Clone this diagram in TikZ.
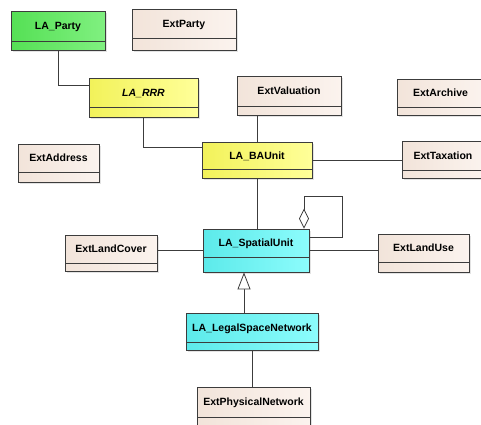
\documentclass[tikz,border=0pt]{standalone}
\usepackage{fontspec}
\setmainfont{Liberation Sans}
\usetikzlibrary{arrows.meta,shadows}

\definecolor{clsline}{HTML}{3C3C3C}
\definecolor{greenL}{HTML}{55E055}
\definecolor{greenR}{HTML}{80F080}
\definecolor{yellowL}{HTML}{F2F25A}
\definecolor{yellowR}{HTML}{FFFF99}
\definecolor{cyanL}{HTML}{5CEAEA}
\definecolor{cyanR}{HTML}{8CFCFC}
\definecolor{extL}{HTML}{F2E4DA}
\definecolor{extR}{HTML}{FBF3EE}

\tikzset{
  cls/.style n args={3}{draw=clsline, line width=0.8pt, left color=#1, right color=#2,
    inner sep=0pt, text height=7.5pt, text depth=#3,
    font=\fontsize{10.5}{12}\selectfont\bfseries,
    drop shadow={shadow xshift=2pt, shadow yshift=-2pt, fill=black!22},
    path picture={\draw[clsline, line width=0.8pt]
      ([yshift=#3]path picture bounding box.south west) --
      ([yshift=#3]path picture bounding box.south east);}},
  la party/.style={cls={greenL}{greenR}{#1}},
  la rrr/.style={cls={yellowL}{yellowR}{#1}},
  la spatial/.style={cls={cyanL}{cyanR}{#1}},
  ext/.style={cls={extL}{extR}{#1}},
  assoc/.style={draw=clsline, line width=0.8pt},
}

\begin{document}
\begin{tikzpicture}[x=1pt,y=-1pt]
  \useasboundingbox (0,0) rectangle (481,424);

  \node[la party=9pt, minimum width=94pt, minimum height=39pt] (party) at (58,30.5) {LA\_Party};
  \node[ext=12pt, minimum width=104pt, minimum height=41pt] (extparty) at (184,29.5) {ExtParty};
  \node[la rrr=10pt, minimum width=109pt, minimum height=39pt] (rrr) at (143.5,97.5) {\itshape LA\_RRR};
  \node[ext=9pt, minimum width=104pt, minimum height=39pt] (valuation) at (289,95.5) {ExtValuation};
  \node[ext=8pt, minimum width=87pt, minimum height=36pt] (archive) at (440.5,97) {ExtArchive};
  \node[ext=10pt, minimum width=81pt, minimum height=38pt] (address) at (58.5,163) {ExtAddress};
  \node[la rrr=9pt, minimum width=110pt, minimum height=36pt] (baunit) at (257,160) {LA\_BAUnit};
  \node[ext=8pt, minimum width=82pt, minimum height=37pt] (taxation) at (443,159.5) {ExtTaxation};
  \node[ext=8pt, minimum width=92pt, minimum height=36pt] (landcover) at (111,253) {ExtLandCover};
  \node[la spatial=15pt, minimum width=106pt, minimum height=43pt] (spatial) at (256,250.5) {LA\_SpatialUnit};
  \node[ext=10pt, minimum width=91pt, minimum height=38pt] (landuse) at (423.5,253) {ExtLandUse};
  \node[la spatial=8pt, minimum width=132pt, minimum height=37pt] (legalnet) at (252,331.5) {LA\_LegalSpaceNetwork};
  \node[ext=11pt, minimum width=113pt, minimum height=41pt] (physnet) at (253.5,407.5) {ExtPhysicalNetwork};

  \draw[assoc] (party.south) |- ([yshift=12.5pt]rrr.west);
  \draw[assoc] (rrr.south) |- ([yshift=13pt]baunit.west);
  \draw[assoc] (baunit.north) -- (baunit.north |- valuation.south);
  \draw[assoc] (baunit.east) -- (baunit.east -| taxation.west);
  \draw[assoc] (baunit.south) -- (baunit.south |- spatial.north);
  \draw[assoc] (spatial.west) -- (spatial.west -| landcover.east);
  \draw[assoc] (spatial.east) -- (spatial.east -| landuse.west);
  \draw[assoc, -{Diamond[length=20pt, width=10pt, fill=white]}]
    ([yshift=13.5pt]spatial.east) -- ++(33,0) -- ++(0,-41) -| ([xshift=48pt]spatial.north);
  \draw[assoc, -{Triangle[open, length=17pt, width=13pt, fill=white]}]
    ([xshift=-8pt]legalnet.north) coordinate (gen) -- (gen |- spatial.south);
  \draw[assoc] (legalnet.south) -- (legalnet.south |- physnet.north);
\end{tikzpicture}
\end{document}
